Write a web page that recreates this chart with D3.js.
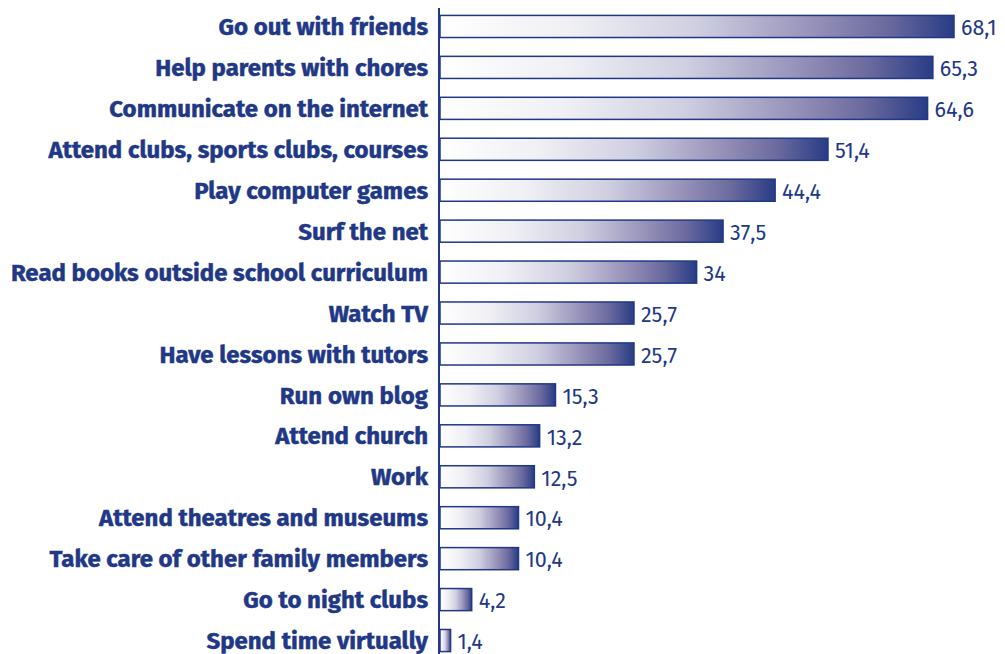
<!DOCTYPE html>
<html><head><meta charset="utf-8">
<script src="https://cdn.jsdelivr.net/npm/d3@7"></script>
<style>body{margin:0;background:#fff}</style>
</head><body>
<svg id="c" width="1005" height="654"></svg>
<script>
const categories = ["Go out with friends","Help parents with chores","Communicate on the internet","Attend clubs, sports clubs, courses","Play computer games","Surf the net","Read books outside school curriculum","Watch TV","Have lessons with tutors","Run own blog","Attend church","Work","Attend theatres and museums","Take care of other family members","Go to night clubs","Spend time virtually"];
const values = [68.1,65.3,64.6,51.4,44.4,37.5,34,25.7,25.7,15.3,13.2,12.5,10.4,10.4,4.2,1.4];
const valueLabels = ["68,1","65,3","64,6","51,4","44,4","37,5","34","25,7","25,7","15,3","13,2","12,5","10,4","10,4","4,2","1,4"];

const svg = d3.select("#c");
const x0 = 440;
const x = d3.scaleLinear().domain([0,68.1]).range([x0,954]);
const y = d3.scaleBand().domain(categories).range([6,661]).paddingInner(0.46).paddingOuter(0.23);
const blue = "#213886";

const defs = svg.append("defs");
const g = defs.append("linearGradient").attr("id","grad").attr("x1","0").attr("x2","1").attr("y1","0").attr("y2","0");
[[0,"#ffffff"],[0.25,"#f0f0f5"],[0.5,"#cfcfe1"],[0.72,"#9893ba"],[0.87,"#6b6a9e"],[1,"#283c85"]].forEach(s=>
  g.append("stop").attr("offset",s[0]).attr("stop-color",s[1]));

svg.selectAll("rect.bar").data(values).join("rect")
  .attr("class","bar")
  .attr("x", x0)
  .attr("y",(d,i)=>y(categories[i]))
  .attr("width", d=>x(d)-x0)
  .attr("height", y.bandwidth())
  .attr("fill","url(#grad)")
  .attr("stroke", blue).attr("stroke-width",1.5);

svg.selectAll("text.val").data(values).join("text")
  .attr("class","val")
  .attr("x",d=>x(d)+7)
  .attr("y",(d,i)=>y(categories[i])+y.bandwidth()/2+1)
  .attr("dy","0.36em")
  .attr("font-family","'Fira Sans', Roboto, 'Noto Sans', sans-serif")
  .attr("font-size",21.5)
  .attr("fill",blue)
  .text((d,i)=>valueLabels[i]);

svg.selectAll("text.cat").data(categories).join("text")
  .attr("class","cat")
  .attr("x",428)
  .attr("y",d=>y(d)+y.bandwidth()/2)
  .attr("dy","0.36em")
  .attr("text-anchor","end")
  .attr("font-family","'Fira Sans', Roboto, 'Noto Sans', sans-serif")
  .attr("font-weight","bold")
  .attr("font-size",24)
  .attr("fill",blue)
  .attr("stroke",blue).attr("stroke-width",0.45)
  .text(d=>d);

svg.append("line").attr("x1",x0-1).attr("x2",x0-1).attr("y1",8).attr("y2",654)
  .attr("stroke",blue).attr("stroke-width",2);
</script>
</body></html>
